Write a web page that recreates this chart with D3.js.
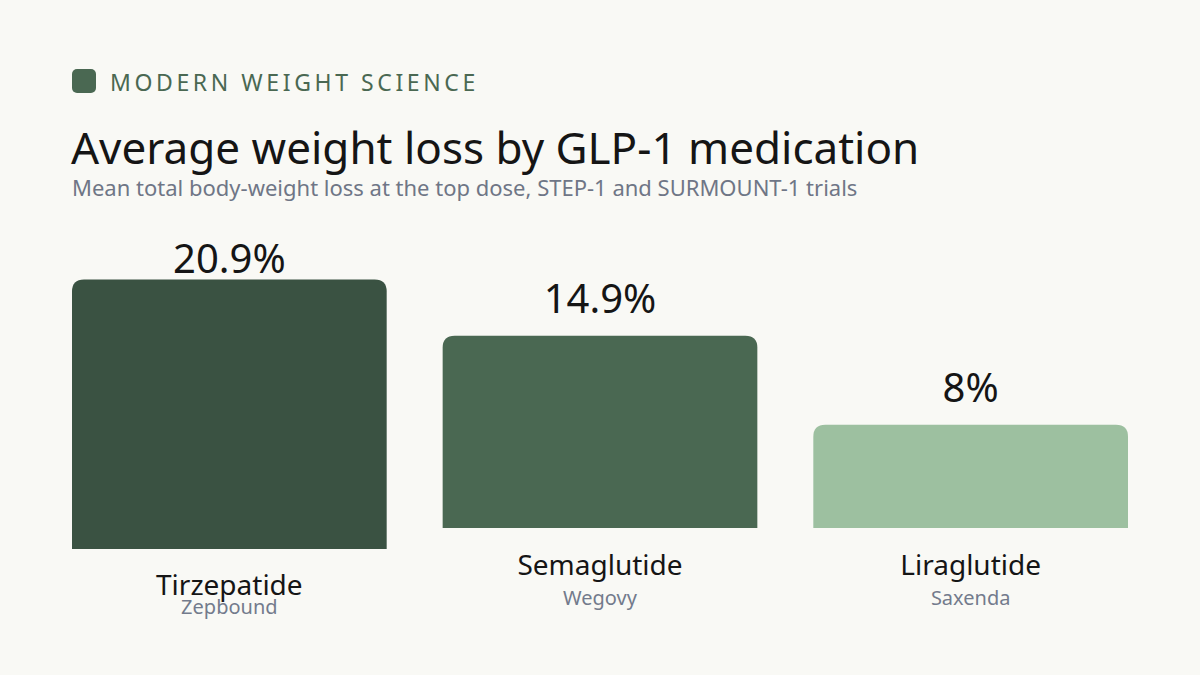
<!DOCTYPE html>
<html>
<head>
<meta charset="utf-8">
<script src="https://cdn.jsdelivr.net/npm/d3@7"></script>
<style>
  html, body { margin: 0; padding: 0; background: #f9f9f5; }
  svg { display: block; font-family: "Noto Sans", "Open Sans", sans-serif; }
</style>
</head>
<body>
<svg id="chart" width="1200" height="675"></svg>
<script>
const categories = ["Tirzepatide", "Semaglutide", "Liraglutide"];
const brands = ["Zepbound", "Wegovy", "Saxenda"];
const values = [20.9, 14.9, 8];
const valueLabels = ["20.9%", "14.9%", "8%"];
const barColors = ["#3a5242", "#4a6852", "#9dc0a0"];

const W = 1200, H = 675;
const svg = d3.select("#chart");
svg.append("rect").attr("width", W).attr("height", H).attr("fill", "#f9f9f5");

// Header
svg.append("rect").attr("x", 72).attr("y", 69).attr("width", 24).attr("height", 24)
  .attr("rx", 5).attr("fill", "#4a6852");
svg.append("text").attr("x", 110).attr("y", 90.5)
  .attr("font-size", 23).attr("letter-spacing", 3.6).attr("fill", "#4a6852")
  .text("MODERN WEIGHT SCIENCE");
svg.append("text").attr("x", 71).attr("y", 164)
  .attr("font-size", 44).attr("fill", "#151515")
  .text("Average weight loss by GLP-1 medication");
svg.append("text").attr("x", 72).attr("y", 196)
  .attr("font-size", 22).attr("fill", "#6f7686")
  .text("Mean total body-weight loss at the top dose, STEP-1 and SURMOUNT-1 trials");

// Scales
const x = d3.scaleBand().domain(categories).range([72, 1128])
  .paddingInner(0.151).paddingOuter(0);
const y = d3.scaleLinear().domain([0, 20.9]).range([528, 258.4]);

// per-bar layout quirks of the reference
const shiftBar = i => i === 0 ? 21 : 0;
const shiftVal = i => i === 0 ? 38 : 0;
const shiftName = i => i === 0 ? 20 : 0;
const shiftBrand = i => i === 0 ? 9 : 0;

const r = 12;
function barPath(x0, y0, w, h) {
  const rr = Math.min(r, h, w / 2);
  return `M${x0},${y0 + h}V${y0 + rr}Q${x0},${y0} ${x0 + rr},${y0}` +
    `H${x0 + w - rr}Q${x0 + w},${y0} ${x0 + w},${y0 + rr}V${y0 + h}Z`;
}

const g = svg.append("g");
categories.forEach((c, i) => {
  const x0 = x(c), w = x.bandwidth();
  const top = y(values[i]) + shiftBar(i);
  const h = y(0) - y(values[i]);
  g.append("path").attr("d", barPath(x0, top, w, h)).attr("fill", barColors[i]);
  const cx = x0 + w / 2;
  g.append("text").attr("x", cx).attr("y", y(values[i]) - 23 + shiftVal(i))
    .attr("text-anchor", "middle").attr("font-size", 40).attr("fill", "#151515")
    .text(valueLabels[i]);
  g.append("text").attr("x", cx).attr("y", y(0) + 46.5 + shiftName(i))
    .attr("text-anchor", "middle").attr("font-size", 28).attr("fill", "#151515")
    .text(c);
  g.append("text").attr("x", cx).attr("y", y(0) + 77 + shiftBrand(i))
    .attr("text-anchor", "middle").attr("font-size", 20).attr("fill", "#737b8c")
    .text(brands[i]);
});
</script>
</body>
</html>
